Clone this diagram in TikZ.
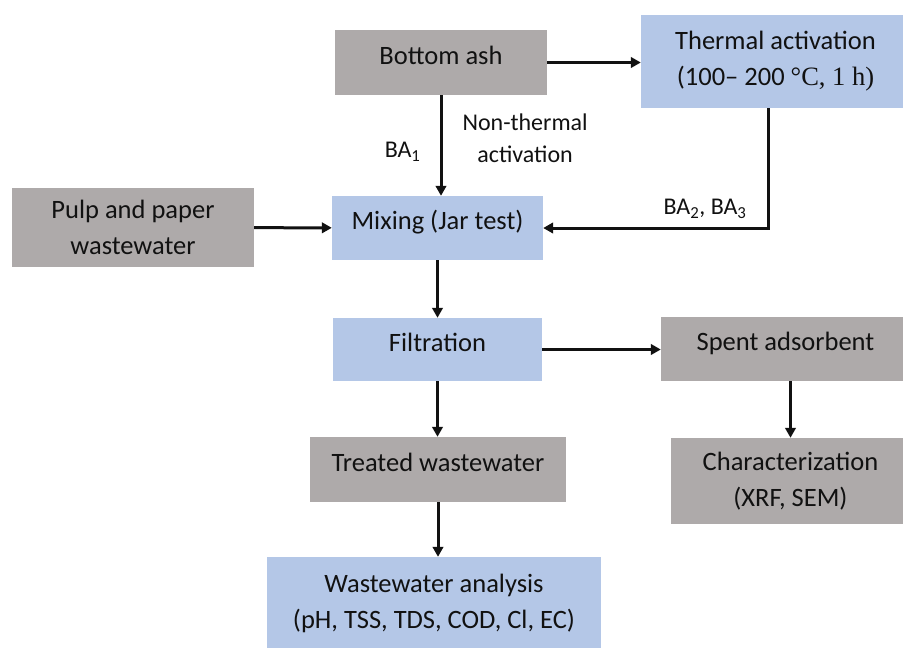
\documentclass[tikz,border=0pt]{standalone}
\usepackage{fontspec}
\setmainfont{Carlito}
\newfontfamily\timesfont{Liberation Serif}
\usetikzlibrary{arrows.meta}
\definecolor{ashGray}{HTML}{AEAAAA}
\definecolor{stepBlue}{HTML}{B4C7E7}
\definecolor{ink}{HTML}{111111}

\begin{document}
\begin{tikzpicture}[x=1pt,y=-1pt,>={Triangle[length=10pt,width=10.5pt]},
  font=\fontsize{26.5}{36}\selectfont,text=ink,
  box/.style={rectangle,inner sep=0pt,align=center},
  greybox/.style={box,fill=ashGray},
  bluebox/.style={box,fill=stepBlue},
  lift/.style={text height=19pt,text depth=16pt},
  flow/.style={->,line width=3pt,draw=ink},
  tag/.style={font=\fontsize{24}{32}\selectfont,inner sep=0pt}]
\path[use as bounding box,clip] (0,0) rectangle (903,648);
% --- top row ---
\node[greybox,lift,minimum width=212pt,minimum height=65pt] (bot) at (441,62.5) {Bottom ash};
\node[bluebox,minimum width=269pt,minimum height=93pt] (therm) at (775.5,61.5) {Thermal activation\\(100– 200 {\timesfont °C, 1 h)}};
% --- mixing and filtration ---
\node[greybox,minimum width=242pt,minimum height=79pt] (pulp) at (133,227.5) {Pulp and paper\\wastewater};
\node[bluebox,lift,minimum width=211pt,minimum height=64pt] (mix) at (437.5,228) {Mixing (Jar test)};
\node[bluebox,lift,minimum width=209pt,minimum height=63pt] (filt) at (437.5,349.5) {Filtration};
\node[greybox,lift,minimum width=249pt,minimum height=64pt] (spent) at (785.5,349) {Spent adsorbent};
% --- outputs ---
\node[greybox,lift,minimum width=256pt,minimum height=65pt] (treat) at (438,469.5) {Treated wastewater};
\node[greybox,minimum width=239pt,minimum height=86pt] (charac) at (790.5,481) {Characterization\\(XRF, SEM)};
\node[bluebox,minimum width=334pt,minimum height=93pt] (anal) at (434,603.5) {Wastewater analysis\\(pH, TSS, TDS, COD, Cl, EC)};
% --- arrows ---
\draw[flow] (bot.east) -- (bot.east -| therm.west);
\draw[flow] (bot.south) -- node[tag,left=19pt,pos=0.56]{BA\textsubscript{1}}
  node[tag,right=20pt,pos=0.43,align=center]{Non-thermal\\activation} (bot.south |- mix.north);
\draw[flow] ([xshift=-7.5pt]therm.south) |- node[tag,above=8pt,pos=0.64]{BA\textsubscript{2}, BA\textsubscript{3}} (mix.east);
\draw[flow] (pulp) -- (mix);
\draw[flow] (mix) -- (filt);
\draw[flow] (filt.east) -- (filt.east -| spent.west);
\draw[flow] (filt.south) -- (filt.south |- treat.north);
\draw[flow] (charac.north |- spent.south) -- (charac.north);
\draw[flow] (treat.south) -- (treat.south |- anal.north);
\end{tikzpicture}
\end{document}
